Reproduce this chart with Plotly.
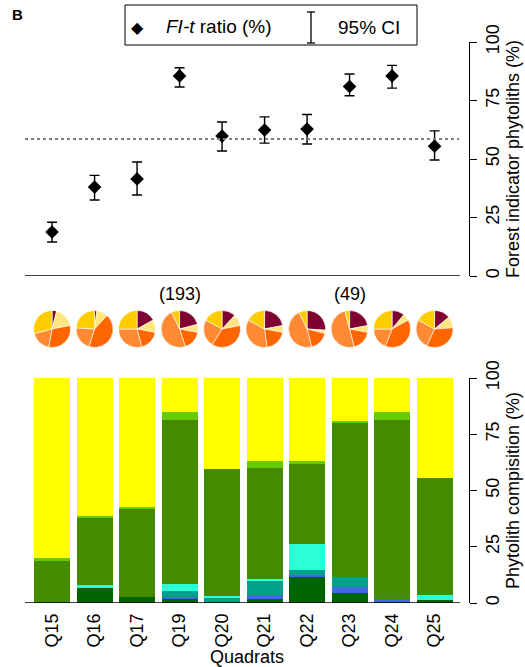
import plotly.graph_objects as go

# ---------------- data ----------------
QUADRATS = ["Q15", "Q16", "Q17", "Q19", "Q20", "Q21", "Q22", "Q23", "Q24", "Q25"]

FIT_RATIO = [18.8, 38.0, 41.5, 85.5, 59.8, 62.4, 62.8, 81.0, 85.5, 55.5]
CI_UPPER = [23.0, 43.0, 48.7, 89.0, 65.8, 68.0, 69.0, 86.3, 90.0, 62.0]
CI_LOWER = [14.5, 32.5, 34.6, 80.8, 53.4, 56.8, 56.4, 77.0, 80.3, 49.6]
MEAN_RATIO = 58.5

COUNT_LABELS = {"Q19": "(193)", "Q23": "(49)"}

# pie compositions (clockwise from 12 o'clock)
PIE_NAMES = ["c1", "c2", "c3", "c4", "c5"]
PIE_VALUES = [
    [4, 18, 31, 18, 29],
    [2, 10, 43, 21, 24],
    [17, 11, 18, 29, 25],
    [21, 7, 17, 48, 7],
    [12, 10, 37, 24, 17],
    [22, 6, 20, 35, 17],
    [26, 3, 17, 47, 7],
    [22, 6, 18, 50, 4],
    [11, 6, 39, 19, 25],
    [14, 10, 33, 26, 17],
]
PIE_COLORS = ["#7f0033", "#ffe680", "#ff6600", "#ff8a33", "#ffcc00"]

# stacked bar composition (bottom to top)
BAR_SERIES = ["dark green", "blue", "teal", "aquamarine", "olive", "light green", "yellow"]
BAR_VALUES = {
    "dark green":  [0.0, 6.7, 2.7, 2.2, 0.5, 1.8, 11.7, 4.4, 0.3, 1.3],
    "blue":        [0.0, 0.0, 0.0, 0.5, 0.0, 1.6, 0.6, 2.7, 1.3, 0.0],
    "teal":        [0.0, 0.0, 0.0, 2.7, 2.0, 6.4, 2.5, 4.4, 0.0, 0.0],
    "aquamarine":  [0.0, 1.3, 0.0, 3.1, 0.7, 0.9, 11.6, 0.0, 0.0, 2.2],
    "olive":       [18.7, 30.0, 39.3, 72.8, 56.4, 49.3, 35.4, 68.9, 79.7, 52.0],
    "light green": [1.3, 0.5, 0.5, 3.6, 0.0, 3.2, 1.3, 0.4, 3.6, 0.0],
    "yellow":      [80.0, 61.5, 57.5, 15.1, 40.4, 36.8, 36.9, 19.2, 15.1, 44.5],
}
BAR_COLORS = {
    "dark green": "#006400",
    "blue": "#4169e1",
    "teal": "#00a38a",
    "aquamarine": "#2bffd6",
    "olive": "#458b00",
    "light green": "#66cc00",
    "yellow": "#ffff00",
}

Y_TICKS = [0, 25, 50, 75, 100]

# ---------------- layout helpers ----------------
W, H = 525, 667
FONT = "Liberation Sans, Arial, Helvetica, sans-serif"


def px(x):
    return x / W


def py(y):
    return 1 - y / H


X_LEFT, X_RIGHT = 25, 469
X_RANGE = [-0.637, 9.81]


def cat_px(i):
    return X_LEFT + (i - X_RANGE[0]) / (X_RANGE[1] - X_RANGE[0]) * (X_RIGHT - X_LEFT)


fig = go.Figure()

# ---- top panel: FI-t ratio with CI ----
fig.add_trace(go.Scatter(
    x=QUADRATS, y=FIT_RATIO, mode="markers",
    marker=dict(symbol="diamond", size=10.5, color="black"),
    error_y=dict(type="data", symmetric=False,
                 array=[u - r for u, r in zip(CI_UPPER, FIT_RATIO)],
                 arrayminus=[r - l for r, l in zip(FIT_RATIO, CI_LOWER)],
                 color="black", thickness=1.4, width=5),
    xaxis="x", yaxis="y", showlegend=False, hoverinfo="skip",
))

# ---- bottom panel: stacked bars ----
for s in BAR_SERIES:
    fig.add_trace(go.Bar(
        x=QUADRATS, y=BAR_VALUES[s], name=s, marker=dict(color=BAR_COLORS[s], line=dict(width=0)),
        width=0.85, xaxis="x2", yaxis="y2", showlegend=False, hoverinfo="skip",
    ))

# ---- pies ----
PIE_CY = 329
PIE_R = 18.5
for i, vals in enumerate(PIE_VALUES):
    cx = cat_px(i)
    fig.add_trace(go.Pie(
        values=vals, labels=PIE_NAMES, sort=False, direction="clockwise", rotation=0,
        marker=dict(colors=PIE_COLORS, line=dict(color="#ffffff", width=0.6)),
        textinfo="none", hoverinfo="skip", showlegend=False,
        domain=dict(x=[px(cx - PIE_R), px(cx + PIE_R)], y=[py(PIE_CY + PIE_R), py(PIE_CY - PIE_R)]),
    ))

axis_font = dict(family=FONT, size=18, color="black")

fig.update_layout(
    width=W, height=H,
    margin=dict(l=0, r=0, t=0, b=0, autoexpand=False),
    paper_bgcolor="white", plot_bgcolor="white",
    barmode="stack", bargap=0,
    font=dict(family=FONT, size=17, color="black"),
    xaxis=dict(domain=[px(X_LEFT), px(X_RIGHT)], range=X_RANGE, anchor="y", automargin=False,
               showticklabels=False, ticks="", showline=False, showgrid=False, zeroline=False),
    yaxis=dict(domain=[py(276), py(42)], range=[0, 100], anchor="x", side="right", automargin=False,
               tickvals=Y_TICKS, ticks="outside", ticklen=7, tickwidth=1.3, tickcolor="black",
               tickangle=-90, tickfont=axis_font,
               showline=True, linecolor="black", linewidth=1.3, showgrid=False, zeroline=False,
               title=dict(text="Forest indicator phytoliths (%)", font=axis_font, standoff=2)),
    xaxis2=dict(domain=[px(X_LEFT), px(X_RIGHT)], range=X_RANGE, anchor="y2", automargin=False,
                tickangle=-90, tickfont=axis_font, ticks="", showline=False, showgrid=False,
                zeroline=False, ticklabelstandoff=6,
                title=dict(text="Quadrats", font=axis_font, standoff=22)),
    yaxis2=dict(domain=[py(603), py(378)], range=[0, 100], anchor="x2", side="right", automargin=False,
                tickvals=Y_TICKS, ticks="outside", ticklen=7, tickwidth=1.3, tickcolor="black",
                tickangle=-90, tickfont=axis_font,
                showline=True, linecolor="black", linewidth=1.3, showgrid=False, zeroline=False,
                title=dict(text="Phytolith compisition (%)", font=axis_font, standoff=2)),
)

shapes = []
# baseline of top panel and bottom panel
shapes.append(dict(type="line", xref="paper", yref="y", x0=px(25), x1=px(460), y0=0, y1=0,
                   line=dict(color="black", width=1.3)))
shapes.append(dict(type="line", xref="paper", yref="y2", x0=px(25), x1=px(460), y0=0, y1=0,
                   line=dict(color="black", width=1.3)))
# dotted mean line
shapes.append(dict(type="line", xref="paper", yref="y", x0=px(25), x1=px(459), y0=MEAN_RATIO, y1=MEAN_RATIO,
                   line=dict(color="#808080", width=2, dash="dot")))
# legend box
shapes.append(dict(type="rect", xref="paper", yref="paper", x0=px(125), x1=px(417), y0=py(45), y1=py(5),
                   line=dict(color="black", width=1), fillcolor="white"))
# legend CI symbol
shapes.append(dict(type="line", xref="paper", yref="paper", x0=px(311), x1=px(311), y0=py(43), y1=py(12),
                   line=dict(color="black", width=1.3)))
shapes.append(dict(type="line", xref="paper", yref="paper", x0=px(307), x1=px(315), y0=py(12), y1=py(12),
                   line=dict(color="black", width=1.3)))
shapes.append(dict(type="line", xref="paper", yref="paper", x0=px(307), x1=px(315), y0=py(43), y1=py(43),
                   line=dict(color="black", width=1.3)))
fig.update_layout(shapes=shapes)

annotations = [
    dict(text="<b>B</b>", x=px(10), y=py(15), xref="paper", yref="paper", showarrow=False,
         xanchor="left", yanchor="middle", font=dict(family=FONT, size=15)),
    dict(text="◆", x=px(137), y=py(28), xref="paper", yref="paper", showarrow=False,
         xanchor="center", yanchor="middle", font=dict(family="DejaVu Sans", size=16)),
    dict(text="<i>FI-t</i> ratio (%)", x=px(164), y=py(26), xref="paper", yref="paper", showarrow=False,
         xanchor="left", yanchor="middle", font=dict(family=FONT, size=19)),
    dict(text="95% CI", x=px(336), y=py(28), xref="paper", yref="paper", showarrow=False,
         xanchor="left", yanchor="middle", font=dict(family=FONT, size=19)),
]
for q, lab in COUNT_LABELS.items():
    i = QUADRATS.index(q)
    annotations.append(dict(text=lab, x=px(cat_px(i)), y=py(294), xref="paper", yref="paper",
                            showarrow=False, xanchor="center", yanchor="middle",
                            font=dict(family=FONT, size=18)))
fig.update_layout(annotations=annotations)

fig.write_html("out.html")
